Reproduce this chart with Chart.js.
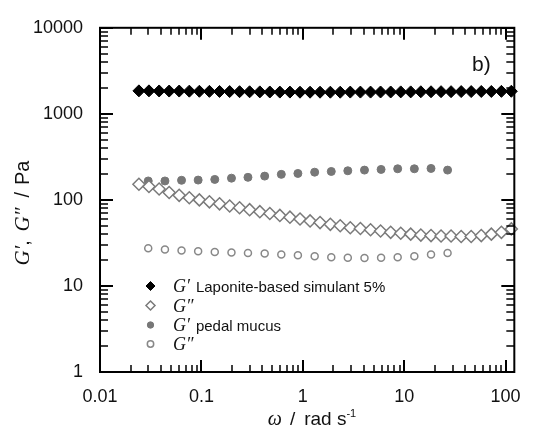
<!DOCTYPE html>
<html>
<head>
<meta charset="utf-8">
<script src="https://cdn.jsdelivr.net/npm/chart.js@4.4.1/dist/chart.umd.min.js"></script>
<style>
  html, body { margin: 0; padding: 0; background: #fff; }
</style>
</head>
<body>
<canvas id="myChart" width="535" height="429"></canvas>
<script>
// frequency sweeps (rad/s) and moduli (Pa)
const lapFreq = [0.0242, 0.0304, 0.0383, 0.0481, 0.0604, 0.076, 0.0955, 0.12, 0.151, 0.19,
  0.238, 0.299, 0.377, 0.473, 0.594, 0.747, 0.939, 1.18, 1.48, 1.87,
  2.34, 2.94, 3.7, 4.66, 5.85, 7.36, 9.25, 11.6, 14.6, 18.4,
  23.1, 29, 36.5, 45.8, 57.6, 72.4, 91, 114];
const lapGp = [1850, 1850, 1845, 1840, 1840, 1835, 1830, 1825, 1820, 1815,
  1810, 1805, 1800, 1795, 1790, 1790, 1785, 1785, 1785, 1785,
  1785, 1790, 1790, 1790, 1795, 1795, 1800, 1800, 1805, 1805,
  1810, 1810, 1815, 1815, 1820, 1820, 1825, 1830];
const lapGpp = [152, 143, 134, 122, 113, 106, 100, 95, 90, 85,
  81, 77, 73, 69.5, 66, 63, 60, 57, 54.5, 52,
  50, 47.5, 46.5, 45, 43.5, 42, 41, 40, 39, 38.5,
  38, 38, 37.5, 37.5, 38.5, 40, 42, 46];

const mucFreq = [0.0299, 0.0437, 0.0637, 0.0929, 0.1355, 0.198, 0.288, 0.421, 0.614, 0.895,
  1.31, 1.91, 2.78, 4.06, 5.92, 8.63, 12.6, 18.4, 26.8];
const mucGp = [166, 166, 169, 170, 173, 179, 183, 189, 198, 203,
  210, 214, 218, 222, 226, 230, 230, 232, 222];
const mucGpp = [27.5, 26.5, 25.8, 25.3, 24.8, 24.5, 24.2, 23.8, 23.2, 22.7,
  22.2, 21.6, 21.3, 21.1, 21.3, 21.6, 22.2, 23.2, 24.2];

const xTicks = [0.01, 0.1, 1, 10, 100];
const yTicks = [1, 10, 100, 1000, 10000];

const legendItems = [
  { mod: 'G\u2032', text: 'Laponite-based simulant 5%' },
  { mod: 'G\u2033', text: '' },
  { mod: 'G\u2032', text: 'pedal mucus' },
  { mod: 'G\u2033', text: '' },
];

const SANS = '"Liberation Sans", Arial, sans-serif';
const SERIF = '"Liberation Serif", "Times New Roman", serif';

const pts = (xs, ys) => xs.map((x, i) => ({ x: x, y: ys[i] }));

const data = {
  datasets: [
    {
      label: 'G\u2032 Laponite-based simulant 5%',
      data: pts(lapFreq, lapGp),
      pointStyle: 'rectRot',
      pointRadius: 6,
      backgroundColor: '#000',
      borderColor: '#000',
      borderWidth: 1,
      clip: false,
    },
    {
      label: 'G\u2033 Laponite',
      data: pts(lapFreq, lapGpp),
      pointStyle: 'rectRot',
      pointRadius: 6,
      backgroundColor: '#fff',
      borderColor: '#7a7a7a',
      borderWidth: 1.5,
      clip: false,
    },
    {
      label: 'G\u2032 pedal mucus',
      data: pts(mucFreq, mucGp),
      pointStyle: 'circle',
      pointRadius: 4,
      backgroundColor: '#777',
      borderColor: '#777',
      borderWidth: 1,
      clip: false,
    },
    {
      label: 'G\u2033 pedal mucus',
      data: pts(mucFreq, mucGpp),
      pointStyle: 'circle',
      pointRadius: 3.5,
      backgroundColor: '#fff',
      borderColor: '#888',
      borderWidth: 1.5,
      clip: false,
    },
  ],
};

function logTicks(min, max) {
  const out = [];
  for (let e = Math.floor(Math.log10(min)); e <= Math.ceil(Math.log10(max)); e++) {
    for (let m = 1; m <= 9; m++) {
      const v = m * Math.pow(10, e);
      if (v >= min * 0.999 && v <= max * 1.001) out.push({ v: v, major: m === 1 });
    }
  }
  return out;
}

// frame with inward ticks on all four sides
const framePlugin = {
  id: 'frame',
  afterDatasetsDraw(chart) {
    const { ctx, chartArea: a, scales } = chart;
    const x = scales.x, y = scales.y;
    ctx.save();
    ctx.strokeStyle = '#000';
    logTicks(x.min, x.max).forEach(t => {
      const px = Math.round(x.getPixelForValue(t.v));
      const len = t.major ? 12 : 7;
      ctx.lineWidth = t.major ? 2 : 1.5;
      ctx.beginPath();
      ctx.moveTo(px, a.bottom); ctx.lineTo(px, a.bottom - len);
      ctx.moveTo(px, a.top); ctx.lineTo(px, a.top + len);
      ctx.stroke();
    });
    logTicks(y.min, y.max).forEach(t => {
      const py = Math.round(y.getPixelForValue(t.v));
      const len = t.major ? 13 : 8;
      ctx.lineWidth = t.major ? 2 : 1.5;
      ctx.beginPath();
      ctx.moveTo(a.left, py); ctx.lineTo(a.left + len, py);
      ctx.moveTo(a.right, py); ctx.lineTo(a.right - len, py);
      ctx.stroke();
    });
    ctx.lineWidth = 2;
    ctx.strokeRect(a.left, a.top, a.right - a.left, a.bottom - a.top);
    ctx.restore();
  }
};

// draws a row of text pieces with their own fonts
function drawRuns(ctx, x, y, runs) {
  runs.forEach(r => {
    ctx.font = r.f;
    ctx.fillText(r.t, x, y + (r.dy || 0));
    x += ctx.measureText(r.t).width + (r.gap || 0);
  });
}
function runsWidth(ctx, runs) {
  let w = 0;
  runs.forEach(r => { ctx.font = r.f; w += ctx.measureText(r.t).width + (r.gap || 0); });
  return w;
}

const textPlugin = {
  id: 'texts',
  afterDraw(chart) {
    const ctx = chart.ctx;
    ctx.save();
    ctx.fillStyle = '#111';
    ctx.textBaseline = 'alphabetic';
    ctx.textAlign = 'left';

    // panel label
    ctx.font = '21px ' + SANS;
    ctx.fillText('b)', 472, 71);

    // legend
    const rowY = [286, 305.5, 325, 344];
    const markers = chart.data.datasets;
    legendItems.forEach((it, i) => {
      const cy = rowY[i], cx = 150.5;
      const ds = markers[i];
      ctx.beginPath();
      if (ds.pointStyle === 'rectRot') {
        const r = 4.5;
        ctx.moveTo(cx, cy - r); ctx.lineTo(cx + r, cy); ctx.lineTo(cx, cy + r); ctx.lineTo(cx - r, cy); ctx.closePath();
      } else {
        ctx.arc(cx, cy, 3.2, 0, Math.PI * 2);
      }
      ctx.fillStyle = ds.backgroundColor;
      ctx.fill();
      ctx.lineWidth = ds.borderWidth;
      ctx.strokeStyle = ds.borderColor;
      ctx.stroke();
      ctx.fillStyle = '#111';
      drawRuns(ctx, 173, cy + 6, [
        { t: it.mod, f: 'italic 18px ' + SERIF, gap: 6 },
        { t: it.text, f: '15px ' + SANS },
      ]);
    });

    // x title
    const xr = [
      { t: '\u03c9', f: 'italic 20px ' + SERIF, gap: 8 },
      { t: '/', f: '19px ' + SANS, gap: 9 },
      { t: 'rad s', f: '19px ' + SANS },
      { t: '-1', f: '11px ' + SANS, dy: -8 },
    ];
    drawRuns(ctx, 312 - runsWidth(ctx, xr) / 2, 425, xr);

    // y title
    ctx.translate(29, 213);
    ctx.rotate(-Math.PI / 2);
    const yr = [
      { t: 'G\u2032', f: 'italic 21px ' + SERIF },
      { t: ', ', f: '20px ' + SANS, gap: 3 },
      { t: 'G\u2033', f: 'italic 21px ' + SERIF, gap: 10 },
      { t: '/', f: '20px ' + SANS, gap: 7 },
      { t: 'Pa', f: '20px ' + SANS },
    ];
    drawRuns(ctx, -runsWidth(ctx, yr) / 2, 0, yr);
    ctx.restore();
  }
};

const config = {
  type: 'scatter',
  data: data,
  options: {
    responsive: false,
    animation: false,
    devicePixelRatio: 1,
    layout: { padding: { left: 0, top: 25, right: 20, bottom: 0 } },
    plugins: {
      legend: { display: false },
      tooltip: { enabled: false },
    },
    scales: {
      x: {
        type: 'logarithmic',
        min: 0.01,
        max: 122,
        afterBuildTicks: s => { s.ticks = xTicks.map(v => ({ value: v })); },
        afterFit: s => { s.height = 57; },
        grid: { display: false, drawTicks: false },
        border: { display: false },
        ticks: {
          autoSkip: false,
          maxRotation: 0,
          padding: 14,
          color: '#111',
          font: { family: SANS, size: 18 },
          callback: v => String(v),
        },
      },
      y: {
        type: 'logarithmic',
        min: 1,
        max: 10000,
        afterBuildTicks: s => { s.ticks = yTicks.map(v => ({ value: v })); },
        afterFit: s => { s.width = 100; },
        grid: { display: false, drawTicks: false },
        border: { display: false },
        ticks: {
          autoSkip: false,
          padding: 17,
          color: '#111',
          font: { family: SANS, size: 18 },
          callback: v => String(v),
        },
      },
    },
  },
  plugins: [framePlugin, textPlugin],
};

const ctx = document.getElementById('myChart');
const myChart = new Chart(ctx, config);
</script>
</body>
</html>
